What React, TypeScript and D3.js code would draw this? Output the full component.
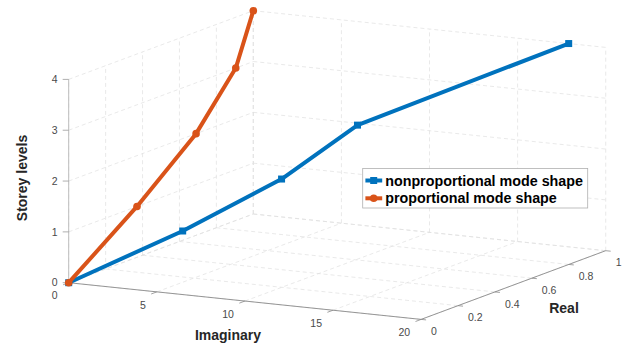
import React from 'react';
import * as d3 from 'd3';

// storey levels (z) and the two mode shapes
const levels = [0, 1, 2, 3, 4];
const nonpropImag = [0, 4.95, 9.2, 12.2, 17.9];
const nonpropReal = [0, 0.145, 0.275, 0.4, 1.0];
const propImag = [0, 0, 0, 0, 0];
const propReal = [0, 0.37, 0.69, 0.905, 1.0];

const imagTicks = [0, 5, 10, 15, 20];
const realTicks = [0, 0.2, 0.4, 0.6, 0.8, 1];
const zTicks = [0, 1, 2, 3, 4];

const seriesNames = ['nonproportional mode shape', 'proportional mode shape'];
const colors = ['#0072BD', '#D95319'];

const W = 626;
const H = 347;
const FONT = '"Liberation Sans", Arial, Helvetica, sans-serif';

// projected box: origin and the screen vectors spanning each axis range
const origin = [68.7, 282.7];
const imagVec = [352.4, 36.7];
const realVec = [184.6, -68.7];
const zVec = [0, -203.3];

const sImag = d3.scaleLinear().domain([0, 20]).range([0, 1]);
const sReal = d3.scaleLinear().domain([0, 1]).range([0, 1]);
const sZ = d3.scaleLinear().domain([0, 4]).range([0, 1]);

const proj = (im: number, re: number, z: number): [number, number] => {
  const a = sImag(im), b = sReal(re), c = sZ(z);
  return [
    origin[0] + a * imagVec[0] + b * realVec[0] + c * zVec[0],
    origin[1] + a * imagVec[1] + b * realVec[1] + c * zVec[1],
  ];
};

const seg = (p: [number, number], q: [number, number], key: string, props: any) => (
  <line key={key} x1={p[0]} y1={p[1]} x2={q[0]} y2={q[1]} {...props} />
);

export default function App() {
  const line = d3.line<[number, number]>().x(d => d[0]).y(d => d[1]);
  const blue = levels.map((z, i) => proj(nonpropImag[i], nonpropReal[i], z));
  const orange = levels.map((z, i) => proj(propImag[i], propReal[i], z));

  const grid = { stroke: '#dfdfdf', strokeWidth: 0.7, strokeDasharray: '4,3' };
  const gridLines: JSX.Element[] = [];
  // left wall (imag = 0)
  zTicks.forEach(z => gridLines.push(seg(proj(0, 0, z), proj(0, 1, z), `lz${z}`, grid)));
  realTicks.forEach(r => gridLines.push(seg(proj(0, r, 0), proj(0, r, 4), `lr${r}`, grid)));
  // back wall (real = 1)
  zTicks.forEach(z => gridLines.push(seg(proj(0, 1, z), proj(20, 1, z), `bz${z}`, grid)));
  imagTicks.forEach(im => gridLines.push(seg(proj(im, 1, 0), proj(im, 1, 4), `bi${im}`, grid)));
  // floor (z = 0)
  imagTicks.forEach(im => gridLines.push(seg(proj(im, 0, 0), proj(im, 1, 0), `fi${im}`, grid)));
  realTicks.forEach(r => gridLines.push(seg(proj(0, r, 0), proj(20, r, 0), `fr${r}`, grid)));

  const tickTxt = { fontFamily: FONT, fontSize: 10.5, fill: '#4a4a4a' };
  const labelTxt = { fontFamily: FONT, fontSize: 14, fontWeight: 700, fill: '#262626' };

  const marker = (k: number, p: [number, number], key: string) =>
    k === 0
      ? <rect key={key} x={p[0] - 3.5} y={p[1] - 3.5} width={7} height={7} fill={colors[0]} />
      : <circle key={key} cx={p[0]} cy={p[1]} r={3.8} fill={colors[1]} />;

  const legX = 362.7, legY = 168.5, legW = 225, legH = 39.5;

  return (
    <svg width={W} height={H} style={{ position: 'absolute', left: 0, top: 0, background: '#fff' }}>
      <rect width={W} height={H} fill="#fff" />
      <g>{gridLines}</g>

      {/* z axis */}
      {seg(proj(0, 0, 0), proj(0, 0, 4), 'zax', { stroke: '#bdbdbd', strokeWidth: 1 })}
      {zTicks.map(z => {
        const p = proj(0, 0, z);
        return (
          <g key={`zt${z}`}>
            <line x1={p[0] - 6} y1={p[1]} x2={p[0]} y2={p[1]} stroke="#9a9a9a" strokeWidth={0.8} />
            <text x={p[0] - 11} y={p[1]} dy="0.35em" textAnchor="end" {...tickTxt}>{z}</text>
          </g>
        );
      })}

      {/* imaginary axis (front, real = 0) */}
      {seg(proj(0, 0, 0), proj(20, 0, 0), 'iax', { stroke: '#8a8a8a', strokeWidth: 0.9 })}
      {imagTicks.map(im => {
        const p = proj(im, 0, 0);
        return (
          <g key={`it${im}`}>
            <line x1={p[0]} y1={p[1]} x2={p[0] - 5.6} y2={p[1] + 2.1} stroke="#8a8a8a" strokeWidth={0.8} />
            <text x={p[0] - 11} y={p[1] + 13} dy="0.35em" textAnchor="end" {...tickTxt}>{im}</text>
          </g>
        );
      })}

      {/* real axis (right, imag = 20) */}
      {seg(proj(20, 0, 0), proj(20, 1, 0), 'rax', { stroke: '#8a8a8a', strokeWidth: 0.9 })}
      {realTicks.map(r => {
        const p = proj(20, r, 0);
        return (
          <g key={`rt${r}`}>
            <line x1={p[0]} y1={p[1]} x2={p[0] + 5} y2={p[1] + 0.5} stroke="#8a8a8a" strokeWidth={0.8} />
            <text x={p[0] + 10} y={p[1] + 12} dy="0.35em" textAnchor="start" {...tickTxt}>{r}</text>
          </g>
        );
      })}

      {/* series */}
      <path d={line(blue) ?? ''} fill="none" stroke={colors[0]} strokeWidth={4} strokeLinejoin="round" />
      {blue.map((p, i) => marker(0, p, `bm${i}`))}
      <path d={line(orange) ?? ''} fill="none" stroke={colors[1]} strokeWidth={4} strokeLinejoin="round" />
      {orange.map((p, i) => marker(1, p, `om${i}`))}

      {/* axis labels */}
      <text x={228} y={335} dy="0.35em" textAnchor="middle" {...labelTxt}>Imaginary</text>
      <text x={564} y={308} dy="0.35em" textAnchor="middle" {...labelTxt}>Real</text>
      <text transform="translate(22,178) rotate(-90)" dy="0.35em" textAnchor="middle" {...labelTxt}>Storey levels</text>

      {/* legend */}
      <rect x={legX} y={legY} width={legW} height={legH} fill="#fff" stroke="#b0b0b0" strokeWidth={0.8} />
      {seriesNames.map((name, k) => {
        const y = legY + 12 + k * 17.8;
        return (
          <g key={name}>
            <line x1={legX + 2.7} y1={y} x2={legX + 19.5} y2={y} stroke={colors[k]} strokeWidth={4} />
            {marker(k, [legX + 11, y], `lm${k}`)}
            <text x={legX + 22.5} y={y} dy="0.35em" fontFamily={FONT} fontSize={14.3} fontWeight={700} fill="#000">{name}</text>
          </g>
        );
      })}
    </svg>
  );
}
